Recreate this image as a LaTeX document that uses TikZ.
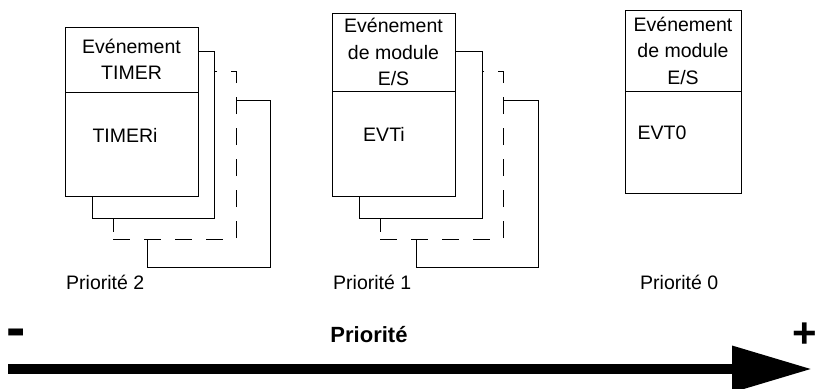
\documentclass[tikz,border=0pt]{standalone}
\usepackage{fontspec}
\setmainfont{Liberation Sans}
\usetikzlibrary{arrows.meta}

\begin{document}
\begin{tikzpicture}[x=1pt, y=-1pt,
		txt/.style={font=\fontsize{19.5}{26.5}\selectfont, align=center, inner sep=0pt},
		box/.style={draw, fill=white, line width=0.8pt, inner sep=0pt},
		sheet/.style={box, minimum width=123pt, minimum height=167pt},
		hidden/.style={sheet, dash pattern=on 17pt off 14pt},
		axis/.style={line width=10pt, -{Triangle[length=80pt, width=44pt]}}]
		\useasboundingbox (0,0) rectangle (816,388);

		% TIMER
		\node (s4A)[sheet]at (208.5,183.5)  {};
		\node (s3A)[hidden, minimum height=168pt]at (174.5,155)  {};
		\node (s2A)[sheet, minimum width=122pt]at (153,134.5)  {};
		\node (hdrA)[box, txt, minimum width=133pt, minimum height=65pt]at (131.5,59.5)  {Evénement\\TIMER};
		\node (bodyA)[box, minimum width=133pt, minimum height=104pt]at (131.5,144)  {};
		\node (tA)[txt]at (125,135)  {TIMERi};
		\node (pA)[txt, anchor=west]at (66,282)  {Priorité 2};

		% module E/S
		\node (s4B)[sheet, minimum width=122pt]at (477,183.5)  {};
		\node (s3B)[hidden, minimum height=168pt]at (441.5,155)  {};
		\node (s2B)[sheet]at (420.5,134.5)  {};
		\node (hdrB)[box, txt, minimum width=123pt, minimum height=78pt]at (393.5,52)  {Evénement\\de module\\E/S};
		\node (bodyB)[box, minimum width=123pt, minimum height=105pt]at (393.5,143.5)  {};
		\node (tB)[txt]at (384,134)  {EVTi};
		\node (pB)[txt, anchor=west]at (333,282)  {Priorité 1};

		% EVT0
		\node (hdrC)[box, txt, minimum width=116pt, minimum height=81pt]at (683,50.5)  {Evénement\\de module\\E/S};
		\node (bodyC)[box, minimum width=116pt, minimum height=102pt]at (683,142)  {};
		\node (tC)[txt]at (662,133)  {EVT0};
		\node (pC)[txt, anchor=west]at (640,282)  {Priorité 0};

		% axe
		\node (moins)[font=\fontsize{58}{58}\selectfont\bfseries, inner sep=0pt]at (16,338)  {-};
		\node (titre)[font=\fontsize{22}{26}\selectfont\bfseries, inner sep=0pt]at (369,335)  {Priorité};
		\node (plus)[font=\fontsize{42}{42}\selectfont\bfseries, inner sep=0pt]at (805,335)  {+};
		\coordinate (axisL) at (8,369);
		\coordinate (axisR) at (812,369);
		\draw [axis](axisL)--(axisR);
	\end{tikzpicture}
\end{document}
